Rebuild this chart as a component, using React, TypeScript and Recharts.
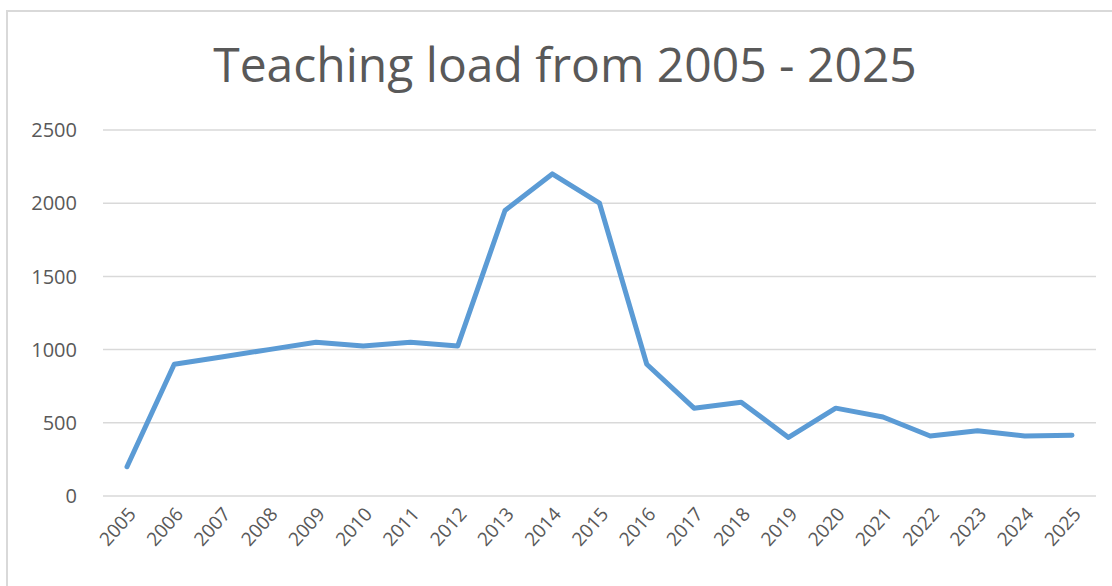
import { LineChart, Line, XAxis, YAxis, CartesianGrid } from "recharts";

const years = [
  "2005", "2006", "2007", "2008", "2009", "2010", "2011", "2012", "2013", "2014", "2015",
  "2016", "2017", "2018", "2019", "2020", "2021", "2022", "2023", "2024", "2025",
];
const load = [
  200, 900, 950, 1000, 1050, 1025, 1050, 1025, 1950, 2200, 2000,
  900, 600, 640, 400, 600, 540, 410, 445, 410, 415,
];
const yTicks = [0, 500, 1000, 1500, 2000, 2500];

const data = years.map((year, i) => ({ year, load: load[i] }));

const FONT = "'Open Sans', 'Noto Sans', sans-serif";
const GREY = "#595959";

export default function App() {
  return (
    <div style={{ position: "fixed", left: 0, top: 0, width: 1112, height: 586, background: "#fff", overflow: "hidden", fontFamily: FONT }}>
      {/* chart frame */}
      <div style={{ position: "absolute", left: 6, top: 10, width: 1200, height: 700, border: "2px solid #d9d9d9", boxSizing: "border-box" }} />
      <div style={{ position: "absolute", left: 0, top: 33, width: 1130, textAlign: "center", fontSize: 48, color: GREY, lineHeight: "62px" }}>
        Teaching load from 2005 - 2025
      </div>
      <div style={{ position: "absolute", left: 0, top: 0 }}>
        <LineChart width={1112} height={586} data={data} margin={{ top: 130, right: 16, bottom: 5, left: 23 }}>
          <CartesianGrid vertical={false} stroke="#d9d9d9" strokeWidth={1.5} />
          <XAxis
            dataKey="year"
            axisLine={false}
            tickLine={false}
            padding={{ left: 24, right: 24 }}
            interval={0}
            height={85}
            angle={-48}
            textAnchor="end"
            tick={{ fontSize: 19, fill: GREY, fontFamily: FONT }}
            tickMargin={4}
          />
          <YAxis
            domain={[0, 2500]}
            ticks={yTicks}
            axisLine={false}
            tickLine={false}
            width={80}
            tickMargin={20}
            tick={{ fontSize: 20, fill: GREY, fontFamily: FONT }}
          />
          <Line
            type="linear"
            dataKey="load"
            stroke="#5b9bd5"
            strokeWidth={5}
            dot={false}
            activeDot={false}
            strokeLinecap="round"
            strokeLinejoin="round"
            isAnimationActive={false}
          />
        </LineChart>
      </div>
    </div>
  );
}
